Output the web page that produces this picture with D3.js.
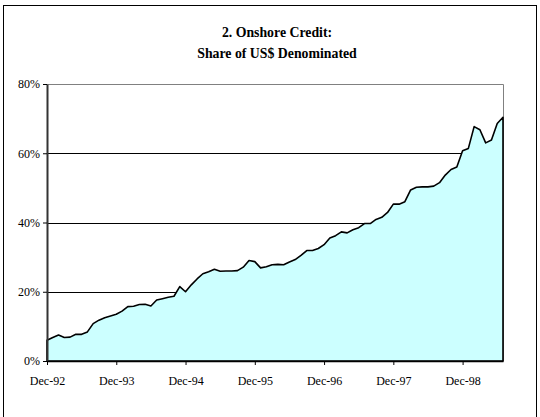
<!DOCTYPE html>
<html>
<head>
<meta charset="utf-8">
<script src="https://cdn.jsdelivr.net/npm/d3@7"></script>
<style>
  body { margin: 0; background: #fff; }
</style>
</head>
<body>
<div id="chart"></div>
<script>
// monthly share of US$ denominated onshore credit, Dec-92 .. Jul-99 (%)
var shareUSD = [
  6.0, 6.8, 7.5, 6.8, 6.9, 7.7, 7.7, 8.4, 10.8, 11.8, 12.5, 13.0,
  13.5, 14.4, 15.7, 15.8, 16.3, 16.4, 15.9, 17.6, 18.0, 18.4, 18.7, 21.5,
  20.0, 22.0, 23.7, 25.2, 25.8, 26.5, 25.9, 26.0, 26.0, 26.1, 27.1, 29.0,
  28.7, 26.9, 27.2, 27.8, 27.9, 27.8, 28.6, 29.3, 30.5, 31.9, 31.9, 32.5,
  33.6, 35.5, 36.2, 37.3, 37.0, 37.9, 38.5, 39.7, 39.7, 40.9, 41.5, 42.9,
  45.3, 45.3, 46.0, 49.4, 50.2, 50.3, 50.3, 50.5, 51.5, 53.7, 55.3, 56.0,
  60.7, 61.4, 67.7, 66.8, 63.0, 63.8, 68.6, 70.4
];
var xTickLabels = ["Dec-92", "Dec-93", "Dec-94", "Dec-95", "Dec-96", "Dec-97", "Dec-98"];
var yTicks = [0, 20, 40, 60, 80];
var titleLines = ["2. Onshore Credit:", "Share of US$ Denominated"];

var width = 540, height = 417;
var plot = { left: 47, right: 503, top: 84, bottom: 361 };
var serif = "Liberation Serif";

var svg = d3.select('#chart').append('svg')
    .attr('width', width).attr('height', height);

// outer frame
svg.append('rect')
    .attr('x', 3.5).attr('y', 5.5)
    .attr('width', 533).attr('height', 430)
    .attr('fill', 'none').attr('stroke', '#000').attr('stroke-width', 1);

var title = svg.append('text')
    .attr('text-anchor', 'middle')
    .style('font-family', serif)
    .style('font-weight', 'bold')
    .style('font-size', '13.8px');
title.selectAll('tspan').data(titleLines).enter().append('tspan')
    .attr('x', 277)
    .attr('y', function(d, i) { return 37 + i * 21; })
    .text(function(d) { return d; });

var x = d3.scaleLinear().domain([0, shareUSD.length - 1]).range([plot.left, plot.right]);
var y = d3.scaleLinear().domain([0, 80]).range([plot.bottom, plot.top]);

// plot area border (top/right gray)
svg.append('path')
    .attr('d', 'M' + plot.left + ',' + (plot.top + 0.5) + 'H' + (plot.right + 0.5) + 'V' + plot.bottom)
    .attr('fill', 'none').attr('stroke', '#808080').attr('stroke-width', 1);

// gridlines
svg.append('g').selectAll('line').data(yTicks.slice(1, -1)).enter().append('line')
    .attr('x1', plot.left).attr('x2', plot.right)
    .attr('y1', function(d) { return Math.round(y(d)) + 0.5; })
    .attr('y2', function(d) { return Math.round(y(d)) + 0.5; })
    .attr('stroke', '#000').attr('stroke-width', 1);

var area = d3.area()
    .x(function(d, i) { return x(i); })
    .y0(y(0))
    .y1(function(d) { return y(d); });

svg.append('path')
    .datum(shareUSD)
    .attr('d', area)
    .attr('fill', '#ccffff')
    .attr('stroke', '#000')
    .attr('stroke-width', 1.6)
    .attr('stroke-linejoin', 'round');

// y axis
var yAxis = d3.axisLeft(y).tickValues(yTicks).tickSize(4).tickSizeOuter(0)
    .tickFormat(function(d) { return d + '%'; });
var gy = svg.append('g').attr('transform', 'translate(' + plot.left + ',0)').call(yAxis);
gy.select('.domain').attr('stroke', '#333').attr('stroke-width', 2);
gy.selectAll('.tick line').attr('stroke', '#000');
gy.selectAll('.tick text').attr('x', -7)
    .style('font-family', serif).style('font-size', '12px');

// x axis: a label every 12 months
var xAxis = d3.axisBottom(x)
    .tickValues(xTickLabels.map(function(d, i) { return i * 12; }))
    .tickSize(4).tickSizeOuter(0)
    .tickFormat(function(d) { return xTickLabels[d / 12]; });
var gx = svg.append('g').attr('transform', 'translate(0,' + plot.bottom + ')').call(xAxis);
gx.select('.domain').attr('stroke', '#000').attr('stroke-width', 1.5);
gx.selectAll('.tick line').attr('stroke', '#000');
gx.selectAll('.tick text').attr('y', 15)
    .style('font-family', serif).style('font-size', '12px');
</script>
</body>
</html>
